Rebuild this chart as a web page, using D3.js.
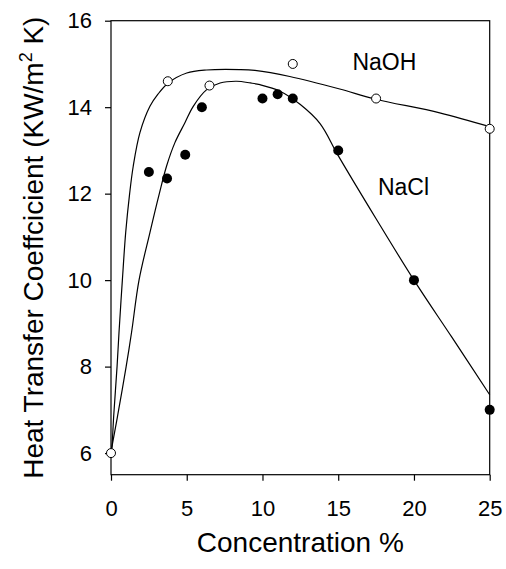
<!DOCTYPE html>
<html>
<head>
<meta charset="utf-8">
<script src="https://cdn.jsdelivr.net/npm/d3@7"></script>
<style>
  body { margin: 0; background: #fff; }
  text { font-family: "Liberation Sans", Arial, sans-serif; fill: #000; }
  .axis path { display: none; }
  .axis line { stroke: #000; stroke-width: 1.2px; }
  .axis text { font-size: 22px; }
</style>
</head>
<body>
<div id="chart"></div>
<script>
// measured points
const naohConc = [0, 3.75, 6.5, 12, 17.5, 25];
const naohHtc  = [6.0, 14.6, 14.5, 15.0, 14.2, 13.5];
const naclConc = [2.5, 3.7, 4.9, 6, 10, 11, 12, 15, 20, 25];
const naclHtc  = [12.5, 12.35, 12.9, 14.0, 14.2, 14.3, 14.2, 13.0, 10.0, 7.0];

// fitted curves
const naohFitX = [0, 0.05, 0.18, 0.4, 0.53, 0.75, 0.97, 1.23, 1.47, 1.91, 2.57, 3.1, 3.78, 5.0, 6.3, 8.5, 9.5, 11.8, 15.1, 17.4, 21.7, 25];
const naohFitY = [6.0, 6.1, 6.87, 8.0, 8.8, 10.0, 11.1, 12.0, 12.64, 13.41, 14.02, 14.3, 14.56, 14.79, 14.86, 14.87, 14.85, 14.71, 14.42, 14.19, 13.87, 13.55];
const naclFitX = [0, 0.09, 0.44, 1.0, 1.36, 1.85, 2.57, 3.19, 3.67, 4.22, 4.88, 5.43, 6.3, 7.2, 8.3, 9.2, 9.83, 11.16, 12.5, 13.8, 15.0, 17.5, 20, 22.5, 25];
const naclFitY = [6.0, 6.2, 6.87, 8.0, 8.8, 10.0, 11.1, 12.0, 12.64, 13.18, 13.64, 14.02, 14.4, 14.56, 14.6, 14.56, 14.52, 14.37, 14.06, 13.62, 12.88, 11.42, 10.0, 8.68, 7.35];

const xTicks = [0, 5, 10, 15, 20, 25];
const yTicks = [6, 8, 10, 12, 14, 16];
const labelText = ["NaOH", "NaCl"];
const labelX = [15.94, 17.62];
const labelY = [14.86, 11.97];

//==================== SIZE ====================
const W = 506, H = 569;
const margin = { top: 20.7, right: 16.3, bottom: 94.3, left: 111 };
const width = W - margin.left - margin.right;
const height = H - margin.top - margin.bottom;

const svg = d3.select("#chart").append("svg")
  .attr("width", W).attr("height", H)
  .append("g")
  .attr("transform", `translate(${margin.left},${margin.top})`);

const x = d3.scaleLinear().domain([0, 25]).range([0, width]);
const y = d3.scaleLinear().domain([5.5, 16]).range([height, 0]);

//==================== FRAME + AXES ====================
svg.append("rect")
  .attr("x", 0).attr("y", 0).attr("width", width).attr("height", height)
  .attr("fill", "none").attr("stroke", "#000").attr("stroke-width", 1.2);

svg.append("g").attr("class", "axis")
  .attr("transform", `translate(0,${height})`)
  .call(d3.axisBottom(x).tickValues(xTicks).tickSize(6).tickPadding(19.5));

svg.append("g").attr("class", "axis")
  .call(d3.axisLeft(y).tickValues(yTicks).tickSize(6).tickPadding(13));

//==================== CURVES ====================
// centripetal catmull-rom copes with the near-vertical start
const line = d3.line().x(d => x(d[0])).y(d => y(d[1])).curve(d3.curveCatmullRom.alpha(0.5));

svg.append("path")
  .datum(naohFitX.map((v, i) => [v, naohFitY[i]]))
  .attr("d", line).attr("fill", "none").attr("stroke", "#000").attr("stroke-width", 1.2);

svg.append("path")
  .datum(naclFitX.map((v, i) => [v, naclFitY[i]]))
  .attr("d", line).attr("fill", "none").attr("stroke", "#000").attr("stroke-width", 1.2);

//==================== POINTS ====================
svg.selectAll(".nacl-dot")
  .data(naclConc.map((v, i) => [v, naclHtc[i]]))
  .enter().append("circle")
  .attr("class", "nacl-dot")
  .attr("cx", d => x(d[0])).attr("cy", d => y(d[1]))
  .attr("r", 5).attr("fill", "#000");

svg.selectAll(".naoh-dot")
  .data(naohConc.map((v, i) => [v, naohHtc[i]]))
  .enter().append("circle")
  .attr("class", "naoh-dot")
  .attr("cx", d => x(d[0])).attr("cy", d => y(d[1]))
  .attr("r", 4.5).attr("fill", "#fff").attr("stroke", "#000").attr("stroke-width", 1);

//==================== LABELS ====================
svg.selectAll(".series-label")
  .data(labelText)
  .enter().append("text")
  .attr("class", "series-label")
  .attr("x", (d, i) => x(labelX[i]))
  .attr("y", (d, i) => y(labelY[i]))
  .style("font-size", "23px")
  .text(d => d);

svg.append("text")
  .attr("x", width / 2).attr("y", 552 - margin.top)
  .attr("text-anchor", "middle")
  .style("font-size", "28px")
  .text("Concentration %");

const yl = svg.append("text")
  .attr("transform", `translate(${43 - margin.left},${height / 2}) rotate(-90)`)
  .attr("text-anchor", "middle")
  .style("font-size", "28px");
yl.append("tspan").text("Heat Transfer Coeffcicient (KW/m");
yl.append("tspan").attr("dy", -11).style("font-size", "18px").text("2");
yl.append("tspan").attr("dy", 11).text(" K)");
</script>
</body>
</html>
